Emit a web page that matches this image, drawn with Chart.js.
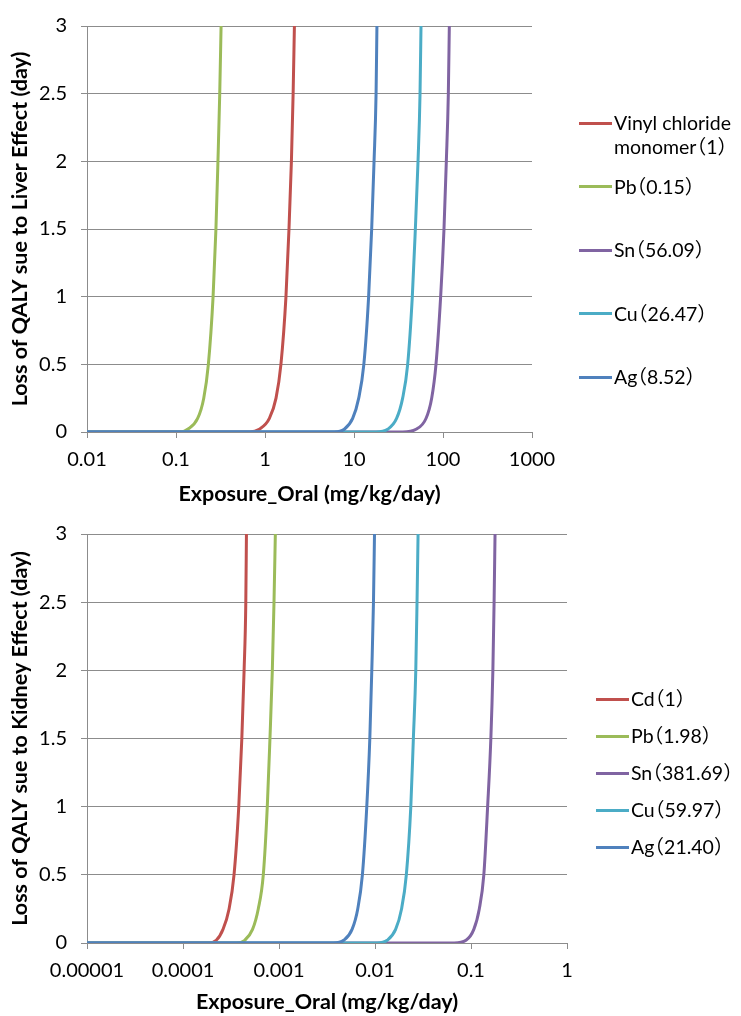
<!DOCTYPE html>
<html>
<head>
<meta charset="utf-8">
<script src="https://cdn.jsdelivr.net/npm/chart.js@4.4.1/dist/chart.umd.min.js"></script>
<style>
  html, body { margin: 0; padding: 0; background: #fff; }
  body { width: 741px; height: 1016px; position: relative; overflow: hidden;
         font-family: Lato, "Noto Sans CJK SC", sans-serif; }
  .wrap { position: absolute; left: 0; width: 741px; }
  .legend { position: absolute; left: 0; top: 0; width: 741px; height: 1016px; pointer-events: none; }
  .item { position: absolute; white-space: nowrap; color: #000; font-feature-settings: "halt" 1; }
  .swatch { position: absolute; height: 3px; }
</style>
</head>
<body>
<div class="wrap" style="top:0px;height:508px"><canvas id="liver" width="741" height="508"></canvas></div>
<div class="wrap" style="top:508px;height:508px"><canvas id="kidney" width="741" height="508"></canvas></div>
<div class="legend" id="legend"></div>
<script>
// ---------------- DATA ----------------
// Loss of QALY levels at which the exposure values below were read
const qalyLevels = [0, 0, 0.02, 0.1, 0.25, 0.5, 1, 1.5, 2, 2.5, 3];

// Liver effect chart: exposure (mg/kg/day) at each qalyLevel
const liverNames = ["Vinyl chloride\nmonomer\uFF081\uFF09", "Pb\uFF080.15\uFF09", "Sn\uFF0856.09\uFF09", "Cu\uFF0826.47\uFF09", "Ag\uFF088.52\uFF09"];
const liverVCM = [0.01, 0.67, 0.863, 1.12, 1.33, 1.51, 1.72, 1.86, 1.98, 2.07, 2.14];
const liverPb  = [0.01, 0.115, 0.135, 0.175, 0.205, 0.231, 0.261, 0.281, 0.296, 0.310, 0.321];
const liverSn  = [0.01, 35.3, 49.8, 64.4, 74.6, 83.4, 94.1, 102.6, 109, 114.8, 117.8];
const liverCu  = [0.01, 17.7, 23.9, 30.1, 35.2, 40.1, 45.2, 48.9, 52.4, 55.2, 56.6];
const liverAg  = [0.01, 6.0, 7.78, 9.66, 11.3, 12.9, 14.6, 15.8, 16.8, 17.7, 18.1];
const liverXTicks = [0.01, 0.1, 1, 10, 100, 1000];
const liverXTickLabels = ["0.01", "0.1", "1", "10", "100", "1000"];

// Kidney effect chart
const kidneyNames = ["Cd\uFF081\uFF09", "Pb\uFF081.98\uFF09", "Sn\uFF08381.69\uFF09", "Cu\uFF0859.97\uFF09", "Ag\uFF0821.40\uFF09"];
const kidneyCd = [0.00001, 0.000182, 0.000222, 0.000261, 0.000302, 0.000340, 0.000381, 0.000410, 0.000433, 0.000451, 0.000458];
const kidneyPb = [0.00001, 0.000360, 0.000440, 0.000530, 0.000608, 0.000686, 0.000755, 0.000805, 0.000852, 0.000887, 0.000916];
const kidneySn = [0.00001, 0.0669, 0.0887, 0.107, 0.122, 0.136, 0.149, 0.161, 0.169, 0.174, 0.178];
const kidneyCu = [0.00001, 0.0105, 0.0134, 0.0164, 0.0189, 0.0212, 0.0236, 0.0251, 0.0266, 0.0274, 0.0281];
const kidneyAg = [0.00001, 0.00371, 0.00472, 0.00577, 0.00661, 0.00739, 0.00821, 0.00883, 0.00926, 0.00964, 0.00988];
const kidneyXTicks = [0.00001, 0.0001, 0.001, 0.01, 0.1, 1];
const kidneyXTickLabels = ["0.00001", "0.0001", "0.001", "0.01", "0.1", "1"];

const yTicks = [0, 0.5, 1, 1.5, 2, 2.5, 3];
const yTickLabels = ["0", "0.5", "1", "1.5", "2", "2.5", "3"];

const seriesColors = ["#C0504D", "#9BBB59", "#8064A2", "#4BACC6", "#4F81BD"];

// ---------------- STYLE / LAYOUT ----------------
const FONT = "Lato, 'Noto Sans CJK SC', sans-serif";
const GRID = "#8C8C8C";
Chart.defaults.font.family = FONT;
Chart.defaults.color = "#000";

function makeChart(canvasId, cfg) {
  const datasets = cfg.series.map((xs, i) => ({
    label: cfg.names[i].replace("\n", " "),
    data: xs.map((x, k) => ({ x: x, y: qalyLevels[k] })),
    borderColor: seriesColors[i],
    backgroundColor: seriesColors[i],
    borderWidth: 3,
    pointRadius: 0,
    fill: false,
    cubicInterpolationMode: "monotone",
    order: cfg.series.length - 1 - i
  }));
  const H = 508;
  return new Chart(document.getElementById(canvasId), {
    type: "line",
    data: { datasets },
    options: {
      responsive: false,
      animation: false,
      devicePixelRatio: 1,
      layout: { padding: { left: 0, top: cfg.top, right: 741 - cfg.right, bottom: 0 } },
      plugins: { legend: { display: false }, tooltip: { enabled: false } },
      scales: {
        x: {
          type: "logarithmic",
          min: cfg.xTicks[0],
          max: cfg.xTicks[cfg.xTicks.length - 1],
          afterBuildTicks: s => { s.ticks = cfg.xTicks.map(v => ({ value: v })); },
          afterFit: s => { s.height = H - cfg.bottom; },
          ticks: {
            autoSkip: false, maxRotation: 0, minRotation: 0, padding: 10,
            font: { size: 20 }, color: "#000",
            callback: (v, i) => cfg.xLabels[i]
          },
          grid: { drawOnChartArea: false, drawTicks: true, tickLength: 6, color: GRID, lineWidth: 1 },
          border: { display: true, color: GRID, width: 1 },
          title: { display: true, text: "Exposure_Oral (mg/kg/day)", color: "#000",
                   font: { size: 21.5, weight: "bold" }, padding: { top: 0, bottom: 1 } }
        },
        y: {
          type: "linear", min: 0, max: 3,
          afterBuildTicks: s => { s.ticks = yTicks.map(v => ({ value: v })); },
          afterFit: s => { s.width = cfg.left; },
          ticks: { padding: 14, font: { size: 20 }, color: "#000",
                   callback: (v, i) => yTickLabels[i] },
          grid: { drawTicks: true, tickLength: 6, color: GRID, lineWidth: 1 },
          border: { display: true, color: GRID, width: 1 },
          title: { display: true, text: cfg.yTitle, color: "#000",
                   font: { size: 21.5, weight: "bold" }, padding: { top: 7, bottom: 0 } }
        }
      }
    }
  });
}

makeChart("liver", {
  series: [liverVCM, liverPb, liverSn, liverCu, liverAg],
  names: liverNames, xTicks: liverXTicks, xLabels: liverXTickLabels,
  yTitle: "Loss of QALY sue to Liver Effect (day)",
  left: 87, right: 532, top: 24, bottom: 432
});
makeChart("kidney", {
  series: [kidneyCd, kidneyPb, kidneySn, kidneyCu, kidneyAg],
  names: kidneyNames, xTicks: kidneyXTicks, xLabels: kidneyXTickLabels,
  yTitle: "Loss of QALY sue to Kidney Effect (day)",
  left: 87, right: 567, top: 26, bottom: 435
});

// ---------------- LEGENDS (HTML text) ----------------
function buildLegend(names, opt) {
  const root = document.getElementById("legend");
  names.forEach((name, i) => {
    const cy = opt.y0 + i * opt.step;
    const sw = document.createElement("div");
    sw.className = "swatch";
    sw.style.left = opt.x + "px";
    sw.style.width = opt.swatchW + "px";
    sw.style.top = (cy - 1.5) + "px";
    sw.style.background = seriesColors[i];
    root.appendChild(sw);
    const t = document.createElement("div");
    t.className = "item";
    t.style.left = (opt.x + opt.swatchW + 2) + "px";
    t.style.top = (cy - opt.lh / 2) + "px";
    t.style.fontSize = opt.size + "px";
    t.style.lineHeight = opt.lh + "px";
    name.split("\n").forEach((line, k) => {
      if (k) t.appendChild(document.createElement("br"));
      t.appendChild(document.createTextNode(line));
    });
    root.appendChild(t);
  });
}
buildLegend(liverNames, { x: 579, y0: 123, step: 63.5, swatchW: 33, size: 19.5, lh: 24 });
buildLegend(kidneyNames, { x: 596, y0: 699, step: 37, swatchW: 33, size: 19.5, lh: 24 });
</script>
</body>
</html>
